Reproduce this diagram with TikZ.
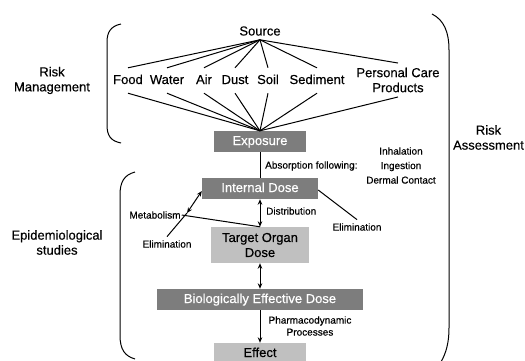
\documentclass[tikz,border=0pt]{standalone}
\usepackage{fontspec}
\setmainfont{Liberation Sans}[FakeBold=0.4]
\usetikzlibrary{arrows.meta}
\definecolor{boxdark}{RGB}{125,125,125}
\definecolor{boxlight}{RGB}{192,192,192}
\begin{document}
\begin{tikzpicture}[x=1pt,y=-1pt,
  big/.style={font=\fontsize{13}{15}\selectfont},
  small/.style={font=\fontsize{10}{14}\selectfont},
  item/.style={big, inner xsep=0pt, inner ysep=6.5pt, text height=9.5pt, text depth=2.5pt},
  darkbox/.style={big, fill=boxdark, text=white, minimum height=21pt, inner sep=0pt, text height=9.5pt, text depth=2.5pt},
  lightbox/.style={big, fill=boxlight, text=black, inner sep=0pt},
  conn/.style={line width=1pt, draw=black},
  tipend/.style={-{Stealth[length=5.5pt,width=4.5pt]}},
  tipboth/.style={{Stealth[length=5.5pt,width=4.5pt]}-{Stealth[length=5.5pt,width=4.5pt]}}
]
\useasboundingbox (0,0) rectangle (525,360);

% side labels
\node[big, align=center] (riskman) at (52,80.5) {Risk\\Management};
\node[big, align=center] (riskass) at (488.5,137.5) {Risk\\Assessment};
\node[big, align=center] (epid) at (57,242.5) {Epidemiological\\studies};

% brackets
\draw[conn] (121,24) .. controls (111,26) and (107,32) .. (107,42) -- (107,125) .. controls (107,136) and (111,141) .. (121,143);
\draw[conn] (135,172) .. controls (124,175) and (120,182) .. (120,195) -- (120,335) .. controls (120,350) and (125,356) .. (135,359);
\draw[conn] (432,14) .. controls (444,20) and (449,32) .. (449,50) -- (449,328) .. controls (449,343) and (446,353) .. (441,362);

% source and items
\node[big, inner xsep=0pt, inner ysep=4pt] (source) at (260,31) {Source};
\node[item] (food) at (128,80.5) {Food};
\node[item] (water) at (167,80.5) {Water};
\node[item] (air) at (204,80.5) {Air};
\node[item] (dust) at (235,80.5) {Dust};
\node[item] (soil) at (268,80.5) {Soil};
\node[item] (sediment) at (317,80.5) {Sediment};
\node[big, align=center, inner sep=4.5pt] (pcp) at (398,80) {Personal Care\\Products};

\node[darkbox, minimum width=92pt] (exposure) at (260,141.5) {Exposure};

\foreach \n in {food,water,air,dust,soil,sediment,pcp}{
  \draw[conn] (source.south) -- (\n.north);
  \draw[conn] (\n.south) -- (exposure.north);
}

% absorption
\node[darkbox, minimum width=116pt] (internal) at (260,188.5) {Internal Dose};
\draw[conn] (exposure.south) -- (internal.north);
\node[small, anchor=west, inner sep=0pt] (absorb) at (265,166) {Absorption following:};
\node[small, align=center, font=\fontsize{10}{14.5}\selectfont] (routes) at (401,165.5) {Inhalation\\Ingestion\\Dermal Contact};

% target organ
\node[lightbox, minimum width=98pt, minimum height=36pt, align=center] (target) at (260,245) {Target Organ\\Dose};
\draw[conn, tipboth] (internal.south) -- (target.north);
\node[small, anchor=west, inner sep=0pt] (distr) at (266,211) {Distribution};

% metabolism / elimination
\node[small, inner sep=1pt] (metab) at (155,215) {Metabolism};
\node[small, inner xsep=1pt, inner ysep=3.5pt] (elimL) at (167,244) {Elimination};
\node[small, inner xsep=1pt, inner ysep=3.5pt] (elimR) at (357,227) {Elimination};
\coordinate (mp) at (187,213);
\draw[conn, tipboth] (mp) -- ([yshift=-2.5pt]internal.west);
\draw[conn] (elimL.north) -- (mp);
\draw[conn] (metab.east) -- (target.north);
\draw[conn] ([yshift=-1.5pt]internal.east) -- (elimR.north);

% biologically effective dose
\node[darkbox, minimum width=206pt] (bed) at (260,299.5) {Biologically Effective Dose};
\draw[conn, tipboth] (target.south) -- (bed.north);

% effect
\node[lightbox, minimum width=92pt, minimum height=21pt, text height=9.5pt, text depth=2.5pt] (effect) at (260,353.5) {Effect};
\draw[conn, tipend] (bed.south) -- (effect.north);
\node[small, align=center, font=\fontsize{10}{12}\selectfont] (pharma) at (310,326) {Pharmacodynamic\\Processes};
\end{tikzpicture}
\end{document}
